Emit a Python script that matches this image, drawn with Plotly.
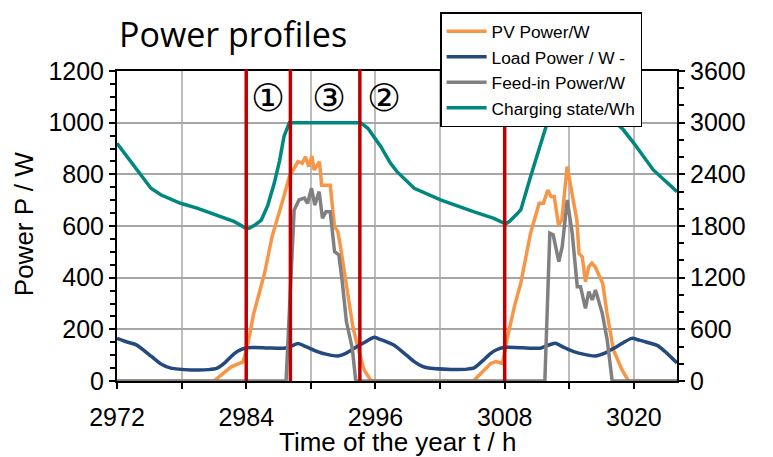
import plotly.graph_objects as go

# ---------------- data ----------------
pv_t = [2972, 2981.0, 2982.6, 2983.7, 2984.1, 2984.7, 2985.7, 2986.4, 2987.4, 2988.0,
        2988.8, 2989.2, 2989.5, 2989.8, 2990.1, 2990.3, 2990.8, 2991.0, 2991.4, 2991.8,
        2992.2, 2992.5, 2992.75, 2993.2, 2993.9, 2994.5, 2994.95, 2995.6, 3005.1, 3006.7,
        3007.2, 3007.8, 3008.2, 3008.9, 3009.5, 3010.4, 3011.2, 3011.6, 3012.0, 3012.3,
        3012.6, 3013.0, 3013.3, 3013.8, 3014.3, 3014.7, 3014.9, 3015.2, 3015.5, 3015.8,
        3016.1, 3016.4, 3017.1, 3017.5, 3018.1, 3018.9, 3019.5, 3024]
pv_w = [0, 0, 55, 74, 133, 262, 417, 559, 701, 791,
        849, 843, 868, 830, 871, 817, 849, 758, 758, 758,
        597, 580, 520, 404, 210, 107, 43, 0, 0, 68,
        75, 68, 159, 288, 380, 572, 688, 688, 739, 714,
        714, 604, 623, 830, 714, 623, 494, 481, 384, 442,
        456, 442, 378, 262, 120, 43, 0, 0]

load_t = [2972, 2973.0, 2973.8, 2975.2, 2976.0, 2977.0, 2978.9, 2980.5, 2981.3, 2982.0,
          2982.6, 2983.2, 2983.8, 2984.5, 2986.0, 2987.5, 2988.2, 2988.8, 2989.6, 2990.6,
          2991.5, 2992.5, 2993.3, 2994.0, 2995.0, 2995.9, 2996.5, 2997.7, 2998.6, 2999.6,
          3000.3, 3001.1, 3003.0, 3004.5, 3005.2, 3006.0, 3006.7, 3007.3, 3007.9, 3009.0,
          3010.4, 3011.3, 3012.0, 3012.7, 3013.5, 3014.4, 3015.4, 3016.4, 3017.3, 3018.1,
          3019.0, 3019.8, 3020.5, 3021.2, 3022.2, 3023.0, 3024]
load_w = [165, 150, 140, 95, 68, 50, 43, 44, 50, 70,
          95, 115, 126, 130, 128, 127, 135, 145, 132, 114,
          103, 97, 108, 126, 150, 169, 160, 139, 110, 75,
          58, 49, 45, 46, 52, 80, 107, 122, 130, 130,
          127, 127, 138, 146, 130, 114, 103, 97, 108, 126,
          148, 165, 158, 150, 137, 110, 70]

feed_t = [2972, 2987.7, 2988.45, 2988.9, 2989.4, 2989.7, 2990.06, 2990.37, 2990.77, 2991.08,
          2991.4, 2991.8, 2992.2, 2992.6, 2992.9, 2993.3, 2993.85, 2994.17, 3011.73, 3012.19,
          3012.5, 3013.03, 3013.34, 3013.81, 3014.27, 3014.74, 3015.04, 3015.5, 3015.81, 3016.13,
          3016.43, 3017.06, 3017.52, 3017.98, 3024]
feed_w = [0, 0, 662, 701, 708, 688, 746, 681, 733, 630,
          655, 655, 501, 488, 391, 230, 126, 0, 0, 572,
          566, 462, 520, 701, 572, 365, 365, 281, 346, 314,
          352, 262, 159, 0, 0]

charge_t = [2972, 2975.15, 2976.1, 2977.9, 2979.5, 2981.65, 2982.9, 2983.97, 2984.27, 2984.8,
            2985.4, 2986.0, 2986.6, 2987.1, 2987.5, 2988.0, 2994.6, 2995.3, 2996.5, 2997.4,
            2998.0, 2999.6, 3002.1, 3005.1, 3007.0, 3008.1, 3008.5, 3009.2, 3009.5, 3010.4,
            3010.7, 3011.95, 3018.3, 3019.0, 3020.0, 3021.8, 3024]
charge_wh = [2760, 2238, 2160, 2064, 2005, 1908, 1850, 1773, 1773, 1810,
             1869, 2040, 2296, 2560, 2838, 3000, 3000, 2934, 2721, 2528,
             2431, 2238, 2101, 1966, 1889, 1823, 1860, 1947, 1990, 2372,
             2489, 3000, 3000, 2920, 2760, 2451, 2199]

phase_marks = [2984, 2988.1, 2994.55, 3008]
phase_labels = ["①", "③", "②"]
phase_label_t = [2986.0, 2991.65, 2996.75]

x_ticks = [2972, 2978, 2984, 2990, 2996, 3002, 3008, 3014, 3020]
x_ticklabels = ["2972", "", "2984", "", "2996", "", "3008", "", "3020"]
y_ticks = [0, 200, 400, 600, 800, 1000, 1200]
y2_ticks = [0, 600, 1200, 1800, 2400, 3000, 3600]

# ---------------- figure ----------------
FONT = "Liberation Sans, Arial, sans-serif"
fig = go.Figure()
fig.add_trace(go.Scatter(x=pv_t, y=pv_w, mode="lines", name="PV Power/W",
                         line=dict(color="#F79646", width=3.5)))
fig.add_trace(go.Scatter(x=load_t, y=load_w, mode="lines", name="Load Power / W -",
                         line=dict(color="#23497E", width=3.5, shape="spline", smoothing=0.6)))
fig.add_trace(go.Scatter(x=feed_t, y=feed_w, mode="lines", name="Feed-in Power/W",
                         line=dict(color="#808080", width=3.5)))
fig.add_trace(go.Scatter(x=charge_t, y=charge_wh, mode="lines", name="Charging state/Wh",
                         yaxis="y2", line=dict(color="#00877F", width=3.5)))

for t in phase_marks:
    fig.add_shape(type="line", xref="x", yref="paper", x0=t, x1=t, y0=0, y1=1.006,
                  line=dict(color="#C00000", width=3.5), layer="above")

for lab, t in zip(phase_labels, phase_label_t):
    fig.add_annotation(x=t, y=0.913, xref="x", yref="paper", text=lab, showarrow=False,
                       xanchor="center", yanchor="middle",
                       font=dict(family="DejaVu Sans", size=38, color="black"))

fig.add_annotation(x=0, xref="paper", xanchor="left", y=1.12, yref="paper", yanchor="middle",
                   text="Power profiles", showarrow=False,
                   font=dict(family="Open Sans", size=34, color="black"))
fig.add_annotation(x=-0.166, xref="paper", y=0.506, yref="paper", text="Power P / W",
                   xanchor="center", yanchor="middle",
                   textangle=-90, showarrow=False, font=dict(family=FONT, size=26, color="black"))
fig.add_annotation(x=0.501, xref="paper", y=-0.196, yref="paper", text="Time of the year t / h",
                   xanchor="center", yanchor="middle",
                   showarrow=False, font=dict(family=FONT, size=26, color="black"))

fig.update_layout(
    width=773, height=457,
    margin=dict(l=117, r=96, t=71, b=76, autoexpand=False),
    paper_bgcolor="white", plot_bgcolor="white",
    font=dict(family=FONT, size=25, color="black"),
    showlegend=True,
    legend=dict(x=0.577, y=1.19, xanchor="left", yanchor="top",
                bgcolor="white", bordercolor="black", borderwidth=1.5,
                font=dict(family=FONT, size=17.3, color="black"),
                itemwidth=40, tracegroupgap=0),
    xaxis=dict(range=[2972, 3024], tickvals=x_ticks, ticktext=x_ticklabels,
               showgrid=True, gridcolor="#BDBDBD", gridwidth=1.5,
               showline=True, linecolor="black", linewidth=2, mirror=True,
               ticks="outside", ticklen=6, tickwidth=1.5, tickcolor="black",
               zeroline=False, layer="below traces", automargin=False, ticklabelstandoff=7),
    yaxis=dict(range=[0, 1200], tickvals=y_ticks, ticksuffix="\u00a0\u00a0\u00a0\u2009",
               showgrid=True, gridcolor="#A6A6A6", gridwidth=1.5,
               showline=True, linecolor="black", linewidth=2,
               ticks="outside", ticklen=6, tickwidth=1.5, tickcolor="black",
               minor=dict(dtick=50, ticks="outside", ticklen=5, tickwidth=1.5, tickcolor="black", showgrid=False),
               zeroline=False, automargin=False),
    yaxis2=dict(range=[0, 3600], tickvals=y2_ticks, overlaying="y", side="right",
                tickprefix="\u2007",
                showgrid=False, showline=True, linecolor="black", linewidth=2,
                ticks="outside", ticklen=6, tickwidth=1.5, tickcolor="black",
                minor=dict(dtick=200, ticks="outside", ticklen=5, tickwidth=1.5, tickcolor="black"),
                zeroline=False, automargin=False),
)

fig.write_html("out.html", config={"displayModeBar": False},
               post_script="document.body.style.margin='0';")
